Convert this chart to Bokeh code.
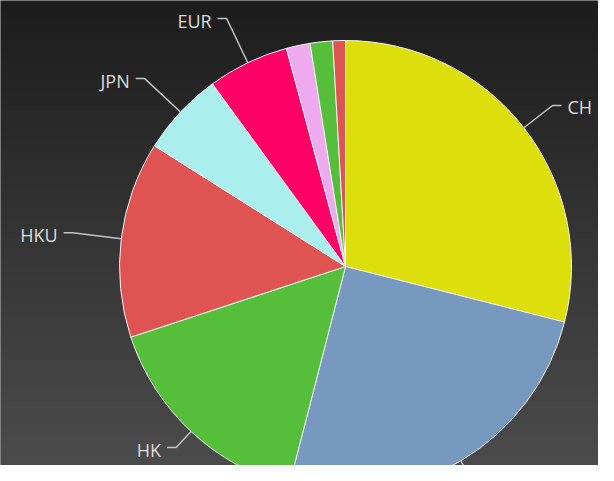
import numpy as np
from bokeh.plotting import figure
from bokeh.models import Range1d, ColumnDataSource
from bokeh.embed import file_html
from bokeh.resources import INLINE
from bokeh.core.properties import value

# ---- data ----
categories = ["CH", "", "HK", "HKU", "JPN", "EUR", "", "", ""]
shares = [28.9, 25.0, 15.9, 14.0, 6.0, 5.8, 1.7, 1.6, 0.9]
colors = ["#DDDF0D", "#7798BF", "#55BF3B", "#DF5353", "#aaeeee",
          "#ff0066", "#eeaaee", "#55BF3B", "#DF5353"]
has_connector = [True, True, True, True, True, True, False, False, False]

# ---- layout ----
W, H = 598, 465
CX, CY = 345, 199       # pie centre (pixels, y up)
R = 226                 # pie radius
R2 = 275                # connector bend radius
MIN_Y = 18              # keep labels inside the canvas
MAX_X = W - 46

p = figure(width=W, height=H, x_range=Range1d(0, W), y_range=Range1d(0, H),
           output_backend="svg", toolbar_location=None, min_border=0)
p.axis.visible = False
p.grid.visible = False
p.outline_line_color = None
p.background_fill_color = "#333333"
p.border_fill_color = "#333333"

# background vertical gradient (dark at top, lighter at bottom)
rows = np.arange(H)
grey = (76.0 - (76.0 - 29.0) * rows / (H - 1)).astype(np.uint8)  # row 0 = bottom
img = np.zeros((H, 1), dtype=np.uint32)
view = img.view(dtype=np.uint8).reshape((H, 1, 4))
view[:, 0, 0] = grey
view[:, 0, 1] = grey
view[:, 0, 2] = grey
view[:, 0, 3] = 255
p.image_rgba(image=[img], x=0, y=0, dw=W, dh=H)

# ---- wedges ----
vals = np.array(shares, dtype=float)
frac = vals / vals.sum()
cum = np.concatenate([[0.0], np.cumsum(frac)])
start = np.pi / 2 - 2 * np.pi * cum[:-1]
end = np.pi / 2 - 2 * np.pi * cum[1:]
src = ColumnDataSource(dict(start=start, end=end, color=colors, name=categories))
p.wedge(x=CX, y=CY, radius=R, start_angle="start", end_angle="end",
        direction="clock", fill_color="color", line_color="#f2f2f2",
        line_width=1, source=src)

# ---- connectors and labels ----
xs, ys = [], []
lx, ly, lt, la = [], [], [], []
for i, name in enumerate(categories):
    if not has_connector[i]:
        continue
    a = 2 * np.pi * (cum[i] + cum[i + 1]) / 2  # clockwise from top
    s, c = np.sin(a), np.cos(a)
    side = 1 if s >= 0 else -1
    ex, ey = CX + R * s, CY + R * c
    r2 = R2
    if name and CY + r2 * c < MIN_Y:
        r2 = (CY - MIN_Y) / (-c)
    if name and CX + r2 * s > MAX_X:
        r2 = (MAX_X - CX) / s
    bx, by = CX + r2 * s, CY + r2 * c
    hx = bx + 9 * side
    xs.append([ex, bx, hx])
    ys.append([ey, by, by])
    if name:
        lx.append(hx + 6 * side)
        ly.append(by - 2)
        lt.append(name)
        la.append("left" if side > 0 else "right")

p.multi_line(xs=xs, ys=ys, line_color="#c4c4c4", line_width=1.5)
lab = ColumnDataSource(dict(x=lx, y=ly, text=lt, align=la))
p.text(x="x", y="y", text="text", text_align="align", text_baseline="middle",
       text_font=value("Open Sans"), text_font_size="18px",
       text_color="#dddddd", source=lab)

open("out.html", "w").write(file_html(p, INLINE))
